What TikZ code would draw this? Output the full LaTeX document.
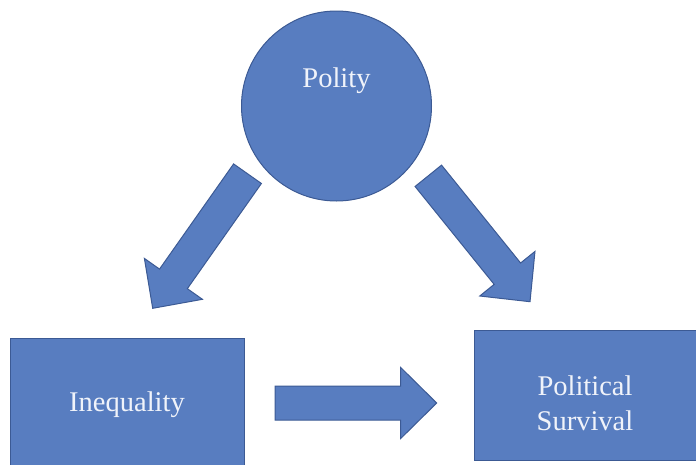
\documentclass[tikz,border=0pt]{standalone}
\usepackage{fontspec}
\setmainfont{Liberation Serif}
\usetikzlibrary{positioning, calc}

\definecolor{boxblue}{RGB}{88,125,192}
\definecolor{boxline}{RGB}{60,90,148}
\definecolor{boxtext}{RGB}{240,243,250}

\tikzset{
	shade blue/.style={draw=boxline, fill=boxblue, line width=1pt},
	bubble/.style={shade blue, circle, minimum size=190pt, inner sep=0pt},
	block/.style={shade blue, rectangle, inner sep=0pt},
	caption/.style={font=\fontsize{28.5}{35}\selectfont, text=boxtext, align=center},
	fat arrow/.style={shade blue, line join=miter,
		to path={
			-- ($(\tikztostart)!17pt!90:(\tikztotarget)$)
			-- ($(\tikztotarget)!36pt!(\tikztostart)!17pt!90:(\tikztotarget)$)
			-- ($(\tikztotarget)!36pt!(\tikztostart)!35.5pt!90:(\tikztotarget)$)
			-- (\tikztotarget)
			-- ($(\tikztotarget)!36pt!(\tikztostart)!35.5pt!-90:(\tikztotarget)$)
			-- ($(\tikztotarget)!36pt!(\tikztostart)!17pt!-90:(\tikztotarget)$)
			-- ($(\tikztostart)!17pt!-90:(\tikztotarget)$)
			-- cycle}}
}

\begin{document}
\begin{tikzpicture}[x=1pt, y=-1pt]
	\useasboundingbox (0,0) rectangle (696,464);

	\node[bubble, label={[caption, yshift=25pt]center:Polity}] (polity) at (336.5,106) {};
	\node[block, caption, minimum width=234pt, minimum height=134pt] (ineq) at (127,405) {Inequality};
	\node[block, minimum width=226pt, minimum height=130pt,
		label={[caption, xshift=-2pt, yshift=-8pt]center:{Political\\Survival}}] (surv) at (587,395) {};

	\coordinate (s1) at (247.5,173.7);
	\coordinate (t1) at (152.7,308.3);
	\coordinate (s2) at (428.3,175.8);
	\coordinate (t2) at (530,301.7);
	\coordinate (s3) at (275,403);
	\coordinate (t3) at (436.7,403);

	\draw [fat arrow]
		(s1) to (t1)
		(s2) to (t2)
		(s3) to (t3)
		;
\end{tikzpicture}
\end{document}
